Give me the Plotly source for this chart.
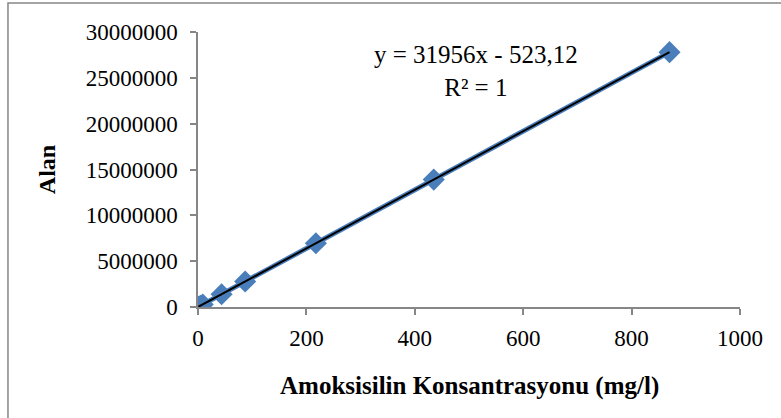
import plotly.graph_objects as go

# Calibration data: amoxicillin concentration (mg/l) vs. peak area
konsantrasyon = [0.87, 4.35, 8.7, 43.5, 87, 217.5, 435, 870]
alan = [27300, 138500, 277500, 1389500, 2779700, 6950000, 13900000, 27801000]

# Linear trendline coefficients (as shown in the equation label)
egim = 31956
kesisim = -523.12

x_ticks = [0, 200, 400, 600, 800, 1000]
y_ticks = [0, 5000000, 10000000, 15000000, 20000000, 25000000, 30000000]

serif = "Liberation Serif"
gray = "#868686"

fig = go.Figure()

fig.add_trace(go.Scatter(
    x=konsantrasyon, y=alan, mode="lines+markers",
    line=dict(color="#4A7EBB", width=5),
    marker=dict(symbol="diamond", size=17, color="#4A7EBB"),
    showlegend=False, hoverinfo="skip",
))

x_fit = [min(konsantrasyon), max(konsantrasyon)]
y_fit = [egim * v + kesisim for v in x_fit]
fig.add_trace(go.Scatter(
    x=x_fit, y=y_fit, mode="lines",
    line=dict(color="black", width=2),
    showlegend=False, hoverinfo="skip",
))

fig.add_annotation(
    x=512, y=25700000, xref="x", yref="y",
    text="y = 31956x - 523,12<br>R² = 1",
    showarrow=False, align="center",
    font=dict(family=serif, size=25, color="black"),
)

# X axis title
fig.add_annotation(
    x=0.5, y=-0.287, xref="paper", yref="paper",
    xanchor="center", yanchor="middle",
    text="<b>Amoksisilin Konsantrasyonu (mg/l)</b>",
    showarrow=False,
    font=dict(family=serif, size=25, color="black"),
)

axis_common = dict(
    showgrid=False, zeroline=False, showline=True, linecolor=gray, linewidth=1.5,
    ticks="outside", ticklen=6, tickcolor=gray, tickwidth=1.5,
    tickfont=dict(family=serif, size=23, color="black"),
)

fig.update_xaxes(
    range=[0, 1000], tickvals=x_ticks, ticktext=[str(v) for v in x_ticks],
    ticklabelstandoff=4,
    **axis_common,
)
fig.update_yaxes(
    range=[0, 30000000], tickvals=y_ticks, ticktext=[str(v) for v in y_ticks],
    ticklabelstandoff=8,
    title=dict(text="<b>Alan</b>", standoff=23,
               font=dict(family=serif, size=24, color="black")),
    **axis_common,
)

# Outer chart frame
fig.add_shape(type="rect", xref="paper", yref="paper",
              x0=-0.3506, x1=1.2, y0=-0.6, y1=1.1055,
              line=dict(color=gray, width=1.5), fillcolor="rgba(0,0,0,0)", layer="below")

fig.update_layout(
    width=781, height=418,
    margin=dict(l=198, r=41, t=32, b=111),
    plot_bgcolor="white", paper_bgcolor="white",
)

fig.write_html("out.html")
